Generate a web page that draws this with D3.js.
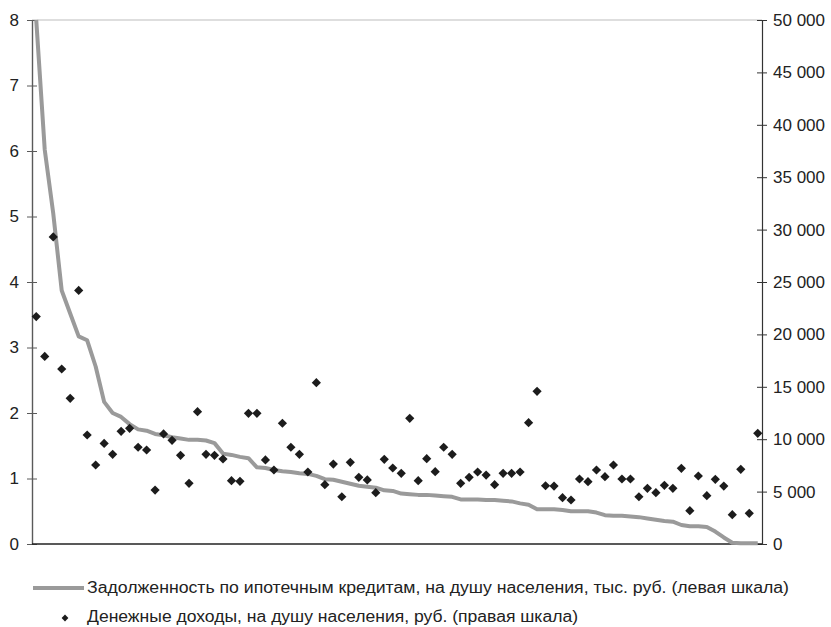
<!DOCTYPE html>
<html>
<head>
<meta charset="utf-8">
<script src="https://cdn.jsdelivr.net/npm/d3@7"></script>
<style>
  html, body { margin: 0; padding: 0; background: #fff; }
  svg { display: block; }
</style>
</head>
<body>
<svg id="chart" width="831" height="627"></svg>
<script>
// ---- Data ----
const categories = d3.range(1, 87).map(d => "Регион " + d);

const mortgageDebt = [8.0, 6.02, 5.05, 3.87, 3.52, 3.17, 3.11, 2.71, 2.17, 2.0,
  1.94, 1.83, 1.75, 1.73, 1.68, 1.66, 1.63, 1.61, 1.59, 1.59,
  1.58, 1.54, 1.38, 1.36, 1.33, 1.31, 1.17, 1.16, 1.13, 1.11,
  1.10, 1.08, 1.07, 1.04, 0.99, 0.98, 0.95, 0.92, 0.89, 0.875,
  0.86, 0.82, 0.81, 0.77, 0.76, 0.75, 0.75, 0.74, 0.73, 0.72,
  0.68, 0.68, 0.68, 0.67, 0.67, 0.66, 0.65, 0.62, 0.60, 0.53,
  0.53, 0.53, 0.52, 0.50, 0.50, 0.50, 0.48, 0.44, 0.43, 0.43,
  0.42, 0.41, 0.39, 0.37, 0.35, 0.34, 0.29, 0.27, 0.27, 0.26,
  0.19, 0.10, 0.02, 0.01, 0.01, 0.01];

const incomePerCapita = [21700, 17900, 29300, 16700, 13900, 24200, 10400, 7540, 9600, 8560,
  10750, 11040, 9230, 8970, 5150, 10500, 9890, 8460, 5790, 12630,
  8560, 8460, 8110, 6040, 5980, 12470, 12470, 8020, 7060, 11520,
  9230, 8560, 6870, 15390, 5660, 7630, 4510, 7790, 6360, 6110,
  4900, 8080, 7250, 6740, 11990, 6040, 8140, 6900, 9230, 8560,
  5790, 6360, 6870, 6580, 5660, 6740, 6740, 6870, 11580, 14570,
  5560, 5530, 4420, 4200, 6200, 5950, 7060, 6420, 7540, 6200,
  6200, 4510, 5310, 4900, 5600, 5310, 7220, 3180, 6490, 4610,
  6170, 5530, 2800, 7130, 2930, 10560];

const leftTicks = [0, 1, 2, 3, 4, 5, 6, 7, 8];
const rightTicks = [0, 5000, 10000, 15000, 20000, 25000, 30000, 35000, 40000, 45000, 50000];

const legendLabels = [
  "Задолженность по ипотечным кредитам, на душу населения, тыс. руб. (левая шкала)",
  "Денежные доходы, на душу населения, руб. (правая шкала)"
];

// ---- Layout ----
const svg = d3.select("#chart");
const plotLeft = 32, plotRight = 762, plotTop = 20, plotBottom = 544;
const font = "Liberation Sans, Arial, Helvetica, sans-serif";
const legendFont = "Liberation Sans Narrow, Arial Narrow, Liberation Sans, sans-serif";

const x = d3.scaleBand().domain(categories).range([plotLeft, plotRight]).padding(0);
const xc = d => x(d) + x.bandwidth() / 2;
const yL = d3.scaleLinear().domain([0, 8]).range([plotBottom, plotTop]);
const yR = d3.scaleLinear().domain([0, 50000]).range([plotBottom, plotTop]);

const ruLocale = d3.formatLocale({decimal: ",", thousands: "\u00a0", grouping: [3], currency: ["", " руб."]});
const fmtR = ruLocale.format(",d");

// top gridline
svg.append("line")
  .attr("x1", plotLeft).attr("x2", plotRight).attr("y1", yL(8)).attr("y2", yL(8))
  .attr("stroke", "#bdbdbd").attr("stroke-width", 1);

// left axis
const gL = svg.append("g").attr("transform", `translate(${plotLeft},0)`)
  .call(d3.axisLeft(yL).tickValues(leftTicks).tickFormat(d3.format("d")).tickSizeInner(5).tickSizeOuter(0).tickPadding(8));
gL.select(".domain").attr("stroke", "#5a5a5a").attr("stroke-width", 1.4);
gL.selectAll(".tick line").attr("stroke", "#5a5a5a").attr("x2", 5).attr("x1", -5);
gL.selectAll(".tick text").attr("font-family", font).attr("font-size", 17).attr("fill", "#222").attr("x", -13);

// right axis
const gR = svg.append("g").attr("transform", `translate(${plotRight},0)`)
  .call(d3.axisRight(yR).tickValues(rightTicks).tickFormat(fmtR).tickSizeInner(5).tickSizeOuter(0).tickPadding(8));
gR.select(".domain").attr("stroke", "#333").attr("stroke-width", 1.2);
gR.selectAll(".tick line").attr("stroke", "#333").attr("x1", -5).attr("x2", 5);
gR.selectAll(".tick text").attr("font-family", font).attr("font-size", 17).attr("fill", "#222").attr("x", 11);

// bottom axis line
svg.append("line")
  .attr("x1", plotLeft).attr("x2", plotRight).attr("y1", yL(0)).attr("y2", yL(0))
  .attr("stroke", "#222").attr("stroke-width", 1.4);

// mortgage debt line
const line = d3.line()
  .x((d, i) => xc(categories[i]))
  .y(d => yL(d));
svg.append("path")
  .datum(mortgageDebt)
  .attr("d", line)
  .attr("fill", "none")
  .attr("stroke", "#9a9a9a")
  .attr("stroke-width", 4)
  .attr("stroke-linejoin", "round");

// income diamonds
const diamond = r => `M0,${-r}L${r},0L0,${r}L${-r},0Z`;
svg.append("g").selectAll("path")
  .data(incomePerCapita)
  .join("path")
  .attr("d", diamond(4.6))
  .attr("transform", (d, i) => `translate(${xc(categories[i])},${yR(d)})`)
  .attr("fill", "#1c1c1c");

// legend
const lg = svg.append("g");
lg.append("line").attr("x1", 33).attr("x2", 84).attr("y1", 588).attr("y2", 588)
  .attr("stroke", "#9a9a9a").attr("stroke-width", 4);
lg.append("text").attr("x", 87).attr("y", 593)
  .attr("font-family", legendFont)
  .attr("font-size", 16).attr("fill", "#222")
  .attr("textLength", 702).attr("lengthAdjust", "spacingAndGlyphs")
  .text(legendLabels[0]);
lg.append("path").attr("d", diamond(3.4)).attr("transform", "translate(65,618)").attr("fill", "#1c1c1c");
lg.append("text").attr("x", 87).attr("y", 622)
  .attr("font-family", legendFont)
  .attr("font-size", 16).attr("fill", "#222")
  .attr("textLength", 491).attr("lengthAdjust", "spacingAndGlyphs")
  .text(legendLabels[1]);
</script>
</body>
</html>
